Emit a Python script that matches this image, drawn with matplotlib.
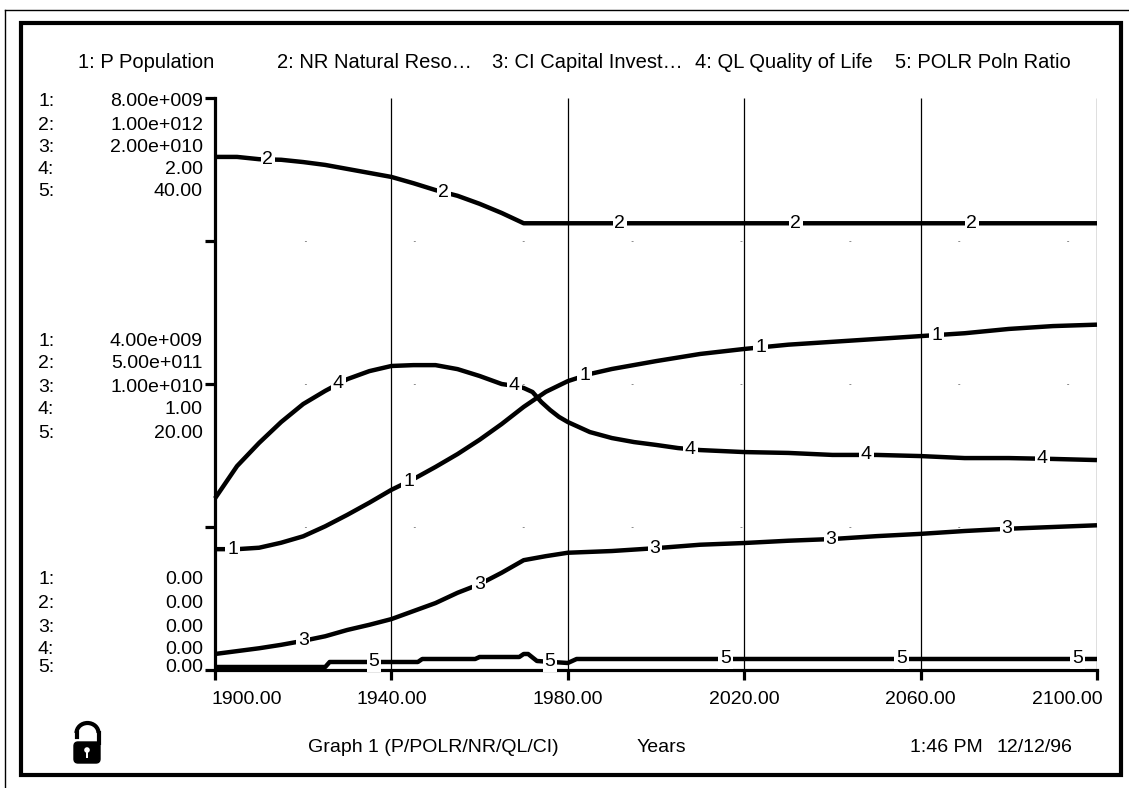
import matplotlib.pyplot as plt
import matplotlib.transforms as mtransforms
from matplotlib.patches import Rectangle, Arc, FancyBboxPatch, Circle
from matplotlib.lines import Line2D
import numpy as np

plt.rcParams["font.family"] = ["Liberation Sans", "DejaVu Sans"]

# ---- data ----
p_years = [1900, 1905, 1910, 1915, 1920, 1925, 1930, 1935, 1940, 1945, 1950, 1955, 1960,
           1965, 1970, 1975, 1980, 1985, 1990, 2000, 2010, 2020, 2030, 2040, 2050, 2060,
           2070, 2080, 2090, 2100]
p_pop = [1.69e9, 1.69e9, 1.71e9, 1.78e9, 1.87e9, 2.01e9, 2.17e9, 2.34e9, 2.52e9, 2.67e9,
         2.84e9, 3.02e9, 3.22e9, 3.44e9, 3.68e9, 3.89e9, 4.04e9, 4.14e9, 4.21e9, 4.32e9,
         4.42e9, 4.49e9, 4.55e9, 4.59e9, 4.63e9, 4.67e9, 4.71e9, 4.77e9, 4.81e9, 4.83e9]

nr_years = [1900, 1905, 1910, 1915, 1920, 1925, 1930, 1935, 1940, 1945, 1950, 1955, 1960,
            1965, 1970, 2100]
nr = [8.97e11, 8.97e11, 8.93e11, 8.92e11, 8.88e11, 8.83e11, 8.76e11, 8.69e11, 8.62e11,
      8.51e11, 8.39e11, 8.29e11, 8.15e11, 7.99e11, 7.81e11, 7.81e11]

ci_years = [1900, 1905, 1910, 1915, 1920, 1925, 1930, 1935, 1940, 1945, 1950, 1955, 1960,
            1965, 1970, 1975, 1980, 1990, 2000, 2010, 2020, 2030, 2040, 2050, 2060, 2070,
            2080, 2090, 2100]
ci = [5.6e8, 6.6e8, 7.6e8, 8.8e8, 1.02e9, 1.18e9, 1.40e9, 1.58e9, 1.78e9, 2.06e9, 2.34e9,
      2.70e9, 3.00e9, 3.40e9, 3.84e9, 3.98e9, 4.10e9, 4.16e9, 4.26e9, 4.38e9, 4.44e9,
      4.52e9, 4.58e9, 4.68e9, 4.76e9, 4.86e9, 4.94e9, 5.00e9, 5.06e9]

ql_years = [1900, 1905, 1910, 1915, 1920, 1925, 1930, 1935, 1940, 1945, 1950, 1955, 1960,
            1965, 1968, 1970, 1972, 1974, 1976, 1978, 1980, 1985, 1990, 1995, 2000, 2005,
            2010, 2020, 2030, 2040, 2050, 2060, 2070, 2080, 2090, 2100]
ql = [0.60, 0.713, 0.794, 0.867, 0.930, 0.976, 1.017, 1.045, 1.063, 1.066, 1.066, 1.052,
      1.028, 1.000, 0.993, 0.986, 0.972, 0.937, 0.909, 0.885, 0.867, 0.832, 0.811, 0.797,
      0.787, 0.776, 0.769, 0.762, 0.759, 0.752, 0.752, 0.748, 0.741, 0.741, 0.738, 0.734]

polr_years = [1900, 1925, 1926, 1946, 1947, 1959, 1960, 1969, 1970, 1971, 1973, 1980,
              1982, 2100]
polr = [0.21, 0.21, 0.56, 0.56, 0.77, 0.77, 0.91, 0.91, 1.12, 1.12, 0.63, 0.49, 0.77, 0.77]

# full-scale value of each series (top of the axis)
scales = [8e9, 1e12, 2e10, 2.0, 40.0]

headers = ["1: P Population", "2: NR Natural Reso\u2026", "3: CI Capital Invest\u2026",
           "4: QL Quality of Life", "5: POLR Poln Ratio"]
top_labels = ["8.00e+009", "1.00e+012", "2.00e+010", "2.00", "40.00"]
mid_labels = ["4.00e+009", "5.00e+011", "1.00e+010", "1.00", "20.00"]
bot_labels = ["0.00", "0.00", "0.00", "0.00", "0.00"]
x_ticks = [1900, 1940, 1980, 2020, 2060, 2100]
x_labels = ["1900.00", "1940.00", "1980.00", "2020.00", "2060.00", "2100.00"]

series = [(p_years, p_pop), (nr_years, nr), (ci_years, ci), (ql_years, ql), (polr_years, polr)]

# ---- figure, laid out in pixels ----
W, H = 1129, 788
fig = plt.figure(figsize=(W / 100, H / 100), dpi=100)


def fx(x):
    return x / W


def fy(y):
    return 1 - y / H


ax = fig.add_axes([fx(215), fy(670), fx(1097) - fx(215), fy(98) - fy(670)])
ax.set_xlim(1900, 2100)
ax.set_ylim(0, 1)

for s in ["top", "right"]:
    ax.spines[s].set_visible(False)
for s in ["left", "bottom"]:
    ax.spines[s].set_linewidth(2.3)
ax.set_xticks(x_ticks)
ax.set_yticks([0, 0.25, 0.5, 0.75, 1.0])
ax.tick_params(direction="out", length=7, width=2.3, labelleft=False, labelbottom=False)

# vertical grid lines + very faint dotted horizontal ones
ax.vlines(x_ticks[1:], 0, 1, colors="black", lw=0.9, zorder=1)
ax.hlines([0.25, 0.5, 0.75], 1900, 2100, colors="0.55", linestyles=(20, (2, 110)), lw=0.7,
          zorder=1)

for k, (yrs, vals) in enumerate(series):
    v = np.array(vals) / scales[k]
    ax.plot(yrs, v, color="black", lw=3.2, zorder=3, clip_on=False, solid_capstyle="butt")
    for j in range(5):
        yr = 1904 + 8 * k + 39.9 * j
        yv = np.interp(yr, yrs, vals) / scales[k]
        ax.text(yr, yv, str(k + 1), ha="center", va="center", fontsize=14, zorder=4,
                bbox=dict(facecolor="white", edgecolor="none", pad=1.2))

# y scale labels (three groups of five rows)
groups = [(top_labels, [102, 125, 147, 170, 192]),
          (mid_labels, [342, 364, 387, 410, 433]),
          (bot_labels, [580, 603, 627, 650, 667])]
for labels, rows in groups:
    for i, (lab, yy) in enumerate(zip(labels, rows)):
        fig.text(fx(38), fy(yy), f"{i + 1}:", ha="left", va="center", fontsize=14)
        fig.text(fx(203), fy(yy), lab, ha="right", va="center", fontsize=14)

# x tick labels
bt = mtransforms.blended_transform_factory(ax.transData, fig.transFigure)
for i, (xv, lab) in enumerate(zip(x_ticks, x_labels)):
    ha = "left" if i == 0 else ("right" if i == len(x_ticks) - 1 else "center")
    xx = xv - 0.7 if i == 0 else (xv + 1.2 if ha == "right" else xv)
    ax.text(xx, fy(699), lab, transform=bt, ha=ha, va="center", fontsize=14)

# header legend
for lab, xx in zip(headers, [78, 277, 492, 695, 895]):
    fig.text(fx(xx), fy(62), lab, ha="left", va="center", fontsize=14.5)

# footer
fig.text(fx(308), fy(747), "Graph 1 (P/POLR/NR/QL/CI)", ha="left", va="center", fontsize=14)
fig.text(fx(637), fy(747), "Years", ha="left", va="center", fontsize=14)
fig.text(fx(910), fy(747), "1:46 PM", ha="left", va="center", fontsize=14)
fig.text(fx(997), fy(747), "12/12/96", ha="left", va="center", fontsize=14)

# frame
fig.add_artist(Rectangle((fx(21), fy(775)), fx(1121) - fx(21), fy(23) - fy(775),
                         transform=fig.transFigure, fill=False, lw=3, ec="black"))
fig.add_artist(Line2D([fx(5), fx(1129)], [fy(10), fy(10)], transform=fig.transFigure,
                      color="black", lw=1))
fig.add_artist(Line2D([fx(5), fx(5)], [fy(10), fy(788)], transform=fig.transFigure,
                      color="black", lw=1))

# unlocked padlock icon
pix = mtransforms.IdentityTransform()
fig.add_artist(FancyBboxPatch((74, H - 763), 26, 21, boxstyle="round,pad=0,rounding_size=4",
                              transform=pix, fc="black", ec="black"))
fig.add_artist(Circle((87, H - 750), 2.8, transform=pix, fc="white", ec="none"))
fig.add_artist(Rectangle((86, H - 758), 2, 8, transform=pix, fc="white", ec="none"))
fig.add_artist(Arc((87.5, H - 733), 22, 20, theta1=0, theta2=180, transform=pix,
                   lw=3, color="black"))
fig.add_artist(Line2D([98.5, 98.5], [H - 733, H - 743], transform=pix, lw=3, color="black"))
fig.add_artist(Line2D([76.5, 76.5], [H - 733, H - 737], transform=pix, lw=3, color="black"))

fig.savefig("out.png", dpi=100)
